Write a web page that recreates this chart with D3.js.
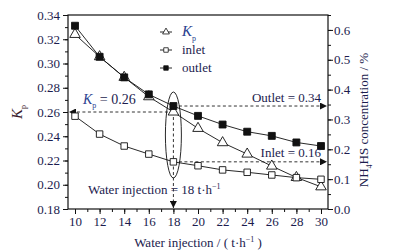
<!DOCTYPE html>
<html>
<head>
<meta charset="utf-8">
<script src="https://cdn.jsdelivr.net/npm/d3@7/dist/d3.min.js"></script>
<style>
  body { margin: 0; background: #fff; }
</style>
</head>
<body>
<div id="chart"></div>
<script>
// water injection rates (t/h)
const injection = [10, 12, 14, 16, 18, 20, 22, 24, 26, 28, 30];
// Kp on left axis
const kp = [0.324, 0.3056, 0.2886, 0.2726, 0.260, 0.2465, 0.2347, 0.2253, 0.2154, 0.206, 0.1983];
// NH4HS concentration (%) on right axis
const inlet = [0.311, 0.251, 0.211, 0.184, 0.158, 0.145, 0.131, 0.123, 0.114, 0.105, 0.0995];
const outlet = [0.614, 0.51, 0.441, 0.384, 0.345, 0.312, 0.283, 0.259, 0.245, 0.223, 0.211];

const xTicks = [10, 12, 14, 16, 18, 20, 22, 24, 26, 28, 30];
const leftTicks = [0.18, 0.20, 0.22, 0.24, 0.26, 0.28, 0.30, 0.32, 0.34];
const rightTicks = [0.0, 0.1, 0.2, 0.3, 0.4, 0.5, 0.6];

const W = 399, H = 251;
const FONT = "'Liberation Serif', 'Times New Roman', Times, serif";
const ink = "#1c1c4e";

const svg = d3.select("#chart").append("svg")
  .attr("width", W).attr("height", H)
  .attr("font-family", FONT);

const x = d3.scaleLinear().domain([9.43, 30.57]).range([68, 328]);
const yL = d3.scaleLinear().domain([0.18, 0.34]).range([209, 15]);
const yR = d3.scaleLinear().domain([0, 0.65]).range([209, 15]);

// arrow heads
const defs = svg.append("defs");
defs.append("marker")
  .attr("id", "arrow")
  .attr("viewBox", "0 0 10 10")
  .attr("refX", 10).attr("refY", 5)
  .attr("markerWidth", 7).attr("markerHeight", 7)
  .attr("markerUnits", "userSpaceOnUse")
  .attr("orient", "auto")
  .append("path").attr("d", "M0,0L10,5L0,10Z").attr("fill", "#111");

// frame
svg.append("rect")
  .attr("x", 68).attr("y", 15).attr("width", 260).attr("height", 194)
  .attr("fill", "none").attr("stroke", "#111").attr("stroke-width", 1.2);

function styleAxis(g) {
  g.attr("font-family", FONT);
  g.select(".domain").remove();
  g.selectAll("line").attr("stroke", "#111");
  g.selectAll("text").style("font-family", FONT).style("font-size", "13px").attr("fill", ink);
}

function txt(sel) {
  return sel.style("font-family", FONT).attr("fill", ink);
}

// bottom axis
svg.append("g").attr("transform", "translate(0,209)")
  .call(d3.axisBottom(x).tickValues(d3.range(10, 31, 1)).tickSize(3).tickFormat(""))
  .call(styleAxis);
svg.append("g").attr("transform", "translate(0,209)")
  .call(d3.axisBottom(x).tickValues(xTicks).tickSize(5).tickPadding(3).tickFormat(d3.format("d")))
  .call(styleAxis);

// left axis
svg.append("g").attr("transform", "translate(68,0)")
  .call(d3.axisLeft(yL).tickValues(d3.range(0.18, 0.345, 0.01)).tickSize(3).tickFormat(""))
  .call(styleAxis);
svg.append("g").attr("transform", "translate(68,0)")
  .call(d3.axisLeft(yL).tickValues(leftTicks).tickSize(5).tickPadding(3).tickFormat(d3.format(".2f")))
  .call(styleAxis);

// right axis
svg.append("g").attr("transform", "translate(328,0)")
  .call(d3.axisRight(yR).tickValues(d3.range(0, 0.651, 0.05)).tickSize(3).tickFormat(""))
  .call(styleAxis);
svg.append("g").attr("transform", "translate(328,0)")
  .call(d3.axisRight(yR).tickValues(rightTicks).tickSize(5).tickPadding(1).tickFormat(d3.format(".1f")))
  .call(styleAxis);

// axis titles
const xt = txt(svg.append("text")).attr("x", 198).attr("y", 247)
  .attr("text-anchor", "middle").style("font-size", "13px");
xt.append("tspan").text("Water injection / ( t\u00b7h");
xt.append("tspan").attr("dy", -5).style("font-size", "8px").text("\u22121");
xt.append("tspan").attr("dy", 5).text(" )");

const yt = txt(svg.append("text")).attr("transform", "translate(22,112) rotate(-90)")
  .attr("text-anchor", "middle").style("font-size", "15px").attr("fill", "#3a1a2a");
yt.append("tspan").style("font-style", "italic").text("K");
yt.append("tspan").attr("dy", 4).style("font-size", "8px").text("p");

const rt = txt(svg.append("text")).attr("transform", "translate(368,120) rotate(-90)")
  .attr("text-anchor", "middle").style("font-size", "13px");
rt.append("tspan").text("NH");
rt.append("tspan").attr("dy", 4).style("font-size", "8px").text("4");
rt.append("tspan").attr("dy", -4).text("HS concentration / %");

// series
const series = [
  { name: "Kp", values: kp, y: yL, shape: d3.symbolTriangle, size: 48, fill: "#fff" },
  { name: "inlet", values: inlet, y: yR, shape: d3.symbolSquare, size: 42, fill: "#fff" },
  { name: "outlet", values: outlet, y: yR, shape: d3.symbolSquare, size: 48, fill: "#111" }
];

series.forEach(s => {
  const line = d3.line().x((d, i) => x(injection[i])).y(d => s.y(d));
  svg.append("path").datum(s.values)
    .attr("d", line).attr("fill", "none").attr("stroke", "#111").attr("stroke-width", 0.9);
});

// annotations (dashed guides at 18 t/h)
const i18 = injection.indexOf(18);
const x18 = x(18);
const dash = "3,2.5";
svg.append("line")
  .attr("x1", x18).attr("y1", yL(kp[i18])).attr("x2", 69).attr("y2", yL(kp[i18]))
  .attr("stroke", "#333").attr("stroke-dasharray", dash).attr("marker-end", "url(#arrow)");
svg.append("line")
  .attr("x1", x18).attr("y1", yR(outlet[i18])).attr("x2", 327).attr("y2", yR(outlet[i18]))
  .attr("stroke", "#333").attr("stroke-dasharray", dash).attr("marker-end", "url(#arrow)");
svg.append("line")
  .attr("x1", x18).attr("y1", yR(inlet[i18])).attr("x2", 327).attr("y2", yR(inlet[i18]))
  .attr("stroke", "#333").attr("stroke-dasharray", dash).attr("marker-end", "url(#arrow)");
svg.append("line")
  .attr("x1", x18).attr("y1", yR(outlet[i18])).attr("x2", x18).attr("y2", 208)
  .attr("stroke", "#333").attr("stroke-dasharray", dash).attr("marker-end", "url(#arrow)");

svg.append("ellipse")
  .attr("cx", x18).attr("cy", 135).attr("rx", 8).attr("ry", 43)
  .attr("fill", "none").attr("stroke", "#111").attr("stroke-width", 0.9);

// markers
series.forEach(s => {
  svg.append("g").selectAll("path").data(s.values).enter().append("path")
    .attr("transform", (d, i) => `translate(${x(injection[i])},${s.y(d)})`)
    .attr("d", d3.symbol().type(s.shape).size(s.size))
    .attr("fill", s.fill).attr("stroke", "#111").attr("stroke-width", 0.9);
});

// annotation labels
const kpLab = txt(svg.append("text")).attr("x", 83).attr("y", 104).style("font-size", "14px");
kpLab.append("tspan").style("font-style", "italic").attr("fill", "#2a3f8f").text("K");
kpLab.append("tspan").attr("dy", 4).style("font-size", "8px").attr("fill", "#2a3f8f").text("p");
kpLab.append("tspan").attr("dy", -4).text(" = 0.26");

txt(svg.append("text")).attr("x", 321).attr("y", 102).attr("text-anchor", "end")
  .style("font-size", "13px").text("Outlet = 0.34");
txt(svg.append("text")).attr("x", 321).attr("y", 157).attr("text-anchor", "end")
  .style("font-size", "13px").text("Inlet = 0.16");

const wl = txt(svg.append("text")).attr("x", 88).attr("y", 194).style("font-size", "13px");
wl.append("tspan").text("Water injection = 18 t\u00b7h");
wl.append("tspan").attr("dy", -5).style("font-size", "8px").text("\u22121");

// legend
const legend = svg.append("g");
series.forEach((s, i) => {
  const ly = 32 + i * 18;
  legend.append("line").attr("x1", 160).attr("x2", 172).attr("y1", ly).attr("y2", ly)
    .attr("stroke", "#111").attr("stroke-width", 0.9);
  legend.append("path").attr("transform", `translate(166,${ly})`)
    .attr("d", d3.symbol().type(s.shape).size(20))
    .attr("fill", s.fill).attr("stroke", "#111").attr("stroke-width", 0.8);
  const t = txt(legend.append("text")).attr("x", 182).attr("y", ly + 4).style("font-size", "13px");
  if (s.name === "Kp") {
    t.append("tspan").style("font-style", "italic").attr("fill", "#2a3f8f").style("font-size", "15px").text("K");
    t.append("tspan").attr("dy", 5).style("font-size", "8px").attr("fill", "#2a3f8f").text("p");
  } else {
    t.text(s.name);
  }
});
</script>
</body>
</html>
